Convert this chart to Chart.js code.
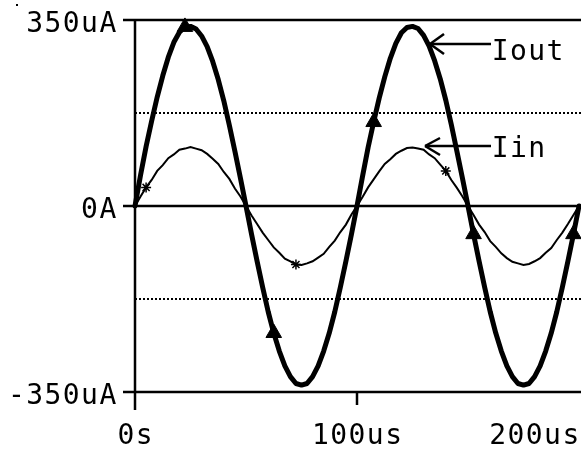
<!DOCTYPE html>
<html>
<head>
<meta charset="utf-8">
<script src="https://cdn.jsdelivr.net/npm/chart.js@4/dist/chart.umd.min.js"></script>
<style>
  html, body { margin: 0; padding: 0; background: #fff; }
  canvas { display: block; }
</style>
</head>
<body>
<canvas id="myChart" width="581" height="452"></canvas>
<script>
// time axis (us) and the two traces (uA)
const timeUs = [0, 2.5, 5, 7.5, 10, 12.5, 15, 17.5, 20, 22.5, 25, 27.5, 30, 32.5, 35, 37.5, 40, 42.5, 45, 47.5,
    50, 52.5, 55, 57.5, 60, 62.5, 65, 67.5, 70, 72.5, 75, 77.5, 80, 82.5, 85, 87.5, 90, 92.5, 95, 97.5,
    100, 102.5, 105, 107.5, 110, 112.5, 115, 117.5, 120, 122.5, 125, 127.5, 130, 132.5, 135, 137.5, 140, 142.5, 145, 147.5,
    150, 152.5, 155, 157.5, 160, 162.5, 165, 167.5, 170, 172.5, 175, 177.5, 180, 182.5, 185, 187.5, 190, 192.5, 195, 197.5, 200];

const ioutValues = [0, 58, 112, 160, 205, 245, 280, 308, 327, 337, 338, 333, 320, 300, 272, 238, 198, 152, 103, 52,
    0, -53, -104, -153, -199, -239, -273, -301, -321, -334, -337, -334, -321, -301, -273, -239, -199, -153, -104, -53,
    0, 56, 110, 158, 203, 243, 278, 306, 326, 336, 338, 334, 321, 301, 273, 239, 199, 153, 103, 52,
    0, -53, -104, -153, -199, -239, -273, -301, -321, -334, -337, -334, -321, -301, -273, -239, -199, -153, -104, -53, 0];

const iinValues = [0, 18, 35, 49, 66, 77, 90, 97, 106, 108, 111, 108, 105, 98, 89, 79, 64, 51, 33, 18,
    0, -18, -34, -50, -64, -78, -88, -99, -104, -110, -111, -108, -104, -97, -90, -77, -65, -49, -35, -16,
    0, 17, 35, 50, 65, 79, 88, 98, 104, 109, 110, 108, 106, 97, 90, 78, 66, 49, 34, 18,
    0, -17, -35, -49, -66, -77, -89, -98, -105, -108, -111, -109, -104, -98, -88, -79, -64, -50, -34, -17, 0];

// where the simulator put its trace markers (times in us)
const ioutMarkerTimes = [22.5, 62.5, 107.5, 152.5, 197.5];
const iinMarkerTimes = [5, 72.5, 140];

// axis ticks
const yTicks = [350, 0, -350];
const yTickLabels = ['350uA', '0A', '-350uA'];
const yDotted = [175, -175];
const xTicks = [0, 100, 200];
const xTickLabels = ['0s', '100us', '200us'];

const FONT = '28px "DejaVu Sans Mono", monospace';
const PITCH = 18.3;

// monospaced text drawn cell by cell (the original has wide spacing)
function drawMono(ctx, text, left, baseline) {
    ctx.save();
    ctx.font = FONT;
    ctx.fillStyle = '#000';
    ctx.textAlign = 'center';
    ctx.textBaseline = 'alphabetic';
    for (let i = 0; i < text.length; i++) {
        ctx.fillText(text[i], left + PITCH * (i + 0.5), baseline);
    }
    ctx.restore();
}

function line(ctx, x1, y1, x2, y2) {
    ctx.beginPath();
    ctx.moveTo(x1, y1);
    ctx.lineTo(x2, y2);
    ctx.stroke();
}

// axes, grid, tick labels
const axesPlugin = {
    id: 'axesPlugin',
    beforeDatasetsDraw(chart) {
        const ctx = chart.ctx;
        const xs = chart.scales.x;
        const ys = chart.scales.y;
        const left = chart.chartArea.left;
        const right = chart.width;
        ctx.save();
        ctx.strokeStyle = '#000';
        ctx.lineWidth = 2;

        // dotted lines at +-175uA
        ctx.setLineDash([2, 2]);
        yDotted.forEach(v => {
            const y = Math.round(ys.getPixelForValue(v));
            line(ctx, left, y, right, y);
        });
        ctx.setLineDash([]);

        ctx.lineWidth = 2.5;
        // solid lines with tick stubs
        yTicks.forEach((v, i) => {
            const y = Math.round(ys.getPixelForValue(v));
            line(ctx, left - 12, y, right, y);
            drawMono(ctx, yTickLabels[i], left - 18 - PITCH * yTickLabels[i].length, y + 12);
        });

        // y axis and x ticks
        const bottom = ys.getPixelForValue(-350);
        line(ctx, left, ys.getPixelForValue(350), left, bottom + 18);
        xTicks.forEach((v, i) => {
            const x = xs.getPixelForValue(v);
            if (i === 1) line(ctx, x, bottom, x, bottom + 13);
            const w = PITCH * xTickLabels[i].length;
            let start = x - w / 2;
            if (start + w > chart.width - 1) start = chart.width - 1 - w;
            drawMono(ctx, xTickLabels[i], start, 444);
        });

        // stray pixel in the corner of the original
        ctx.fillStyle = '#000';
        ctx.fillRect(16, 4, 2, 2);
        ctx.restore();
    },
    afterDraw(chart) {
        const ctx = chart.ctx;
        ctx.save();
        ctx.strokeStyle = '#000';
        ctx.lineWidth = 2.5;
        // Iout label arrow
        line(ctx, 491, 44, 430, 44);
        line(ctx, 430, 44, 444, 34);
        line(ctx, 430, 44, 444, 54);
        drawMono(ctx, 'Iout', 491, 60);
        // Iin label arrow
        line(ctx, 491, 146, 425, 146);
        line(ctx, 425, 146, 440, 138);
        line(ctx, 425, 146, 440, 155);
        drawMono(ctx, 'Iin', 491, 157);
        ctx.restore();
    }
};

const ioutPoints = timeUs.map((t, i) => ({x: t, y: ioutValues[i]}));
const iinPoints = timeUs.map((t, i) => ({x: t, y: iinValues[i]}));

new Chart(document.getElementById('myChart'), {
    type: 'line',
    data: {
        datasets: [{
            label: 'Iout',
            data: ioutPoints,
            borderColor: '#000',
            backgroundColor: '#000',
            borderWidth: 5,
            tension: 0,
            borderJoinStyle: 'round',
            borderCapStyle: 'round',
            pointStyle: 'triangle',
            pointRadius: ctx => ioutMarkerTimes.includes(timeUs[ctx.dataIndex]) ? 9 : 0,
            pointBorderWidth: 1,
            clip: false
        }, {
            label: 'Iin',
            data: iinPoints,
            borderColor: '#000',
            backgroundColor: '#fff',
            borderWidth: 2,
            tension: 0,
            pointStyle: 'star',
            pointRadius: ctx => iinMarkerTimes.includes(timeUs[ctx.dataIndex]) ? 5 : 0,
            pointBorderWidth: 1.5,
            clip: false
        }]
    },
    options: {
        responsive: false,
        animation: false,
        layout: { padding: { left: 135, right: 2, top: 20, bottom: 60 } },
        plugins: { legend: { display: false }, tooltip: { enabled: false } },
        scales: {
            x: { type: 'linear', min: 0, max: 200, display: false },
            y: { min: -350, max: 350, display: false }
        }
    },
    plugins: [axesPlugin]
});
</script>
</body>
</html>
